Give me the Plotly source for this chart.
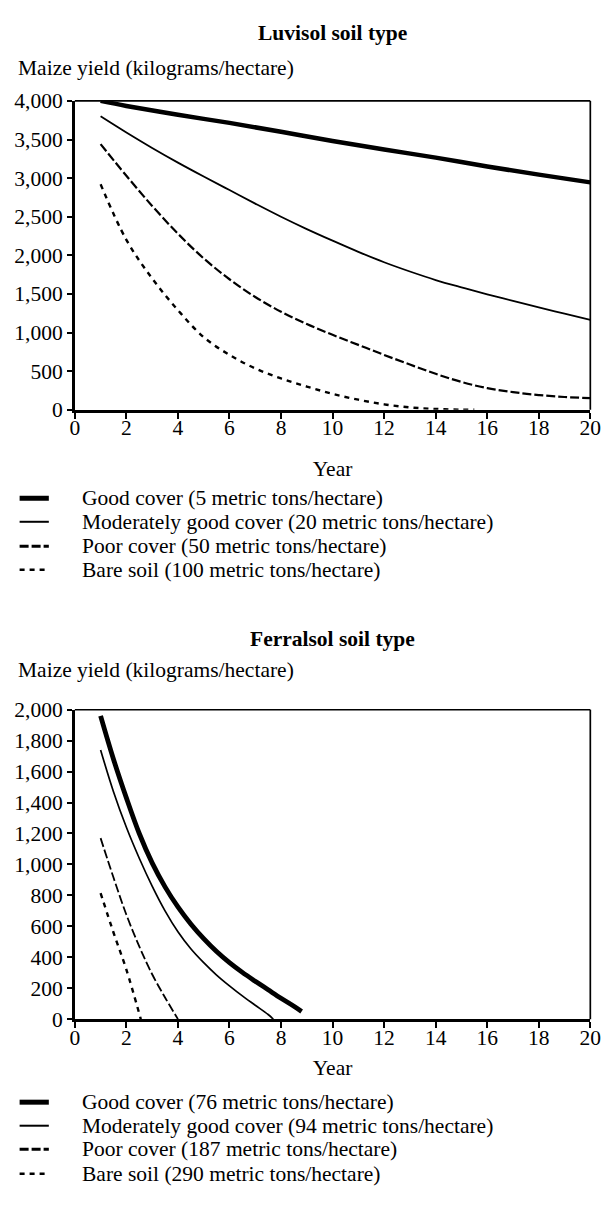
import plotly.graph_objects as go

# ---------------- data ----------------
luv_title = "Luvisol soil type"
fer_title = "Ferralsol soil type"
y_label = "Maize yield (kilograms/hectare)"
x_label = "Year"

luv_names = ["Good cover (5 metric tons/hectare)",
             "Moderately good cover (20 metric tons/hectare)",
             "Poor cover (50 metric tons/hectare)",
             "Bare soil (100 metric tons/hectare)"]
fer_names = ["Good cover (76 metric tons/hectare)",
             "Moderately good cover (94 metric tons/hectare)",
             "Poor cover (187 metric tons/hectare)",
             "Bare soil (290 metric tons/hectare)"]

luv_good_x = [1, 2, 4, 6, 8, 10, 12, 14, 16, 18, 20]
luv_good_y = [4000, 3935, 3820, 3715, 3600, 3480, 3370, 3265, 3150, 3045, 2945]
luv_mod_x = list(range(1, 21))
luv_mod_y = [3800, 3590, 3390, 3200, 3020, 2845, 2670, 2500, 2340, 2190,
             2045, 1910, 1790, 1680, 1585, 1495, 1410, 1325, 1245, 1165]
luv_poor_x = list(range(1, 21))
luv_poor_y = [3440, 3030, 2640, 2280, 1960, 1690, 1460, 1270, 1110, 970,
              840, 710, 585, 465, 360, 280, 228, 190, 165, 150]
luv_bare_x = [1, 2, 3, 4, 5, 6, 7, 8, 9, 10, 11, 12, 13, 14, 15, 15.5]
luv_bare_y = [2920, 2200, 1700, 1290, 940, 710, 535, 405, 300, 205, 130, 70, 30, 10, 0, 0]

fer_good_x = [1, 1.5, 2, 2.5, 3, 3.5, 4, 4.5, 5, 5.5, 6, 6.5, 7, 7.5, 8, 8.5, 8.8]
fer_good_y = [1960, 1680, 1430, 1200, 1010, 855, 725, 615, 520, 437, 365, 302, 245, 190, 135, 83, 50]
fer_mod_x = [1, 1.5, 2, 2.5, 3, 3.5, 4, 4.5, 5, 5.5, 6, 6.5, 7, 7.5, 7.7]
fer_mod_y = [1740, 1470, 1240, 1040, 860, 700, 565, 455, 365, 285, 215, 150, 90, 30, 0]
fer_poor_x = [1, 1.5, 2, 2.5, 3, 3.5, 4]
fer_poor_y = [1170, 915, 675, 470, 290, 140, 0]
fer_bare_x = [1, 1.5, 2, 2.56]
fer_bare_y = [815, 560, 320, 0]

# ---------------- styling ----------------
W, H = 613, 1224
FONT = "Liberation Serif"
FS = 21.5

def px(X):
    return X / W

def py(Y):
    return 1 - Y / H

styles_top = [dict(width=4.5, dash="solid"),
              dict(width=1.8, dash="solid"),
              dict(width=2.2, dash="9px,3px"),
              dict(width=2.4, dash="5px,5px")]
styles_bot = [dict(width=4.8, dash="solid"),
              dict(width=1.7, dash="solid"),
              dict(width=1.8, dash="9px,3px"),
              dict(width=2.4, dash="5px,5px")]

fig = go.Figure()

top_series = [(luv_good_x, luv_good_y), (luv_mod_x, luv_mod_y),
              (luv_poor_x, luv_poor_y), (luv_bare_x, luv_bare_y)]
bot_series = [(fer_good_x, fer_good_y), (fer_mod_x, fer_mod_y),
              (fer_poor_x, fer_poor_y), (fer_bare_x, fer_bare_y)]

for (xs, ys), name, st in zip(top_series, luv_names, styles_top):
    fig.add_trace(go.Scatter(x=xs, y=ys, name=name, mode="lines",
                             line=dict(color="black", shape="spline", smoothing=1.0, **st),
                             xaxis="x", yaxis="y", showlegend=False))
for (xs, ys), name, st in zip(bot_series, fer_names, styles_bot):
    fig.add_trace(go.Scatter(x=xs, y=ys, name=name, mode="lines",
                             line=dict(color="black", shape="spline", smoothing=1.0, **st),
                             xaxis="x2", yaxis="y2", showlegend=False))

xdom = [px(71.7), px(601)]
top_dom = [py(406.7), py(91.7)]
bot_dom = [py(1028.3), py(712.7)]

axis_common = dict(showgrid=False, zeroline=False, showline=True, linecolor="black",
                   linewidth=2.6, ticks="outside", tickcolor="black", tickwidth=2,
                   tickfont=dict(family=FONT, size=FS, color="black"), mirror=False)

fig.update_layout(
    width=W, height=H, margin=dict(l=0, r=0, t=0, b=0),
    paper_bgcolor="white", plot_bgcolor="white",
    font=dict(family=FONT, size=FS, color="black"),
    xaxis=dict(domain=xdom, range=[0, 20], dtick=2, tick0=0, ticklen=6, anchor="y",
               ticklabelstandoff=-9, ticklabeloverflow="allow",
               title=dict(text=x_label, font=dict(family=FONT, size=FS), standoff=22),
               **axis_common),
    yaxis=dict(domain=top_dom, range=[0, 4000], dtick=500, tickformat=",", ticklen=5,
               anchor="x", ticklabelstandoff=0, **axis_common),
    xaxis2=dict(domain=xdom, range=[0, 20], dtick=2, tick0=0, ticklen=6, anchor="y2",
                ticklabelstandoff=-9, ticklabeloverflow="allow",
                title=dict(text=x_label, font=dict(family=FONT, size=FS), standoff=12),
                **axis_common),
    yaxis2=dict(domain=bot_dom, range=[0, 2000], dtick=200, tickformat=",", ticklen=5,
                anchor="x2", ticklabelstandoff=0, **axis_common),
)

shapes = []
for xr, yr in [("x domain", "y domain"), ("x2 domain", "y2 domain")]:
    shapes.append(dict(type="line", xref=xr, yref=yr, x0=0, x1=1, y0=1, y1=1,
                       line=dict(color="black", width=1.7)))
    shapes.append(dict(type="line", xref=xr, yref=yr, x0=1, x1=1, y0=0, y1=1,
                       line=dict(color="black", width=1.7)))

annotations = [
    dict(text="<b>" + luv_title + "</b>", x=px(336), y=py(22), xref="paper", yref="paper",
         xanchor="center", yanchor="middle", showarrow=False, font=dict(family=FONT, size=FS)),
    dict(text=y_label, x=px(11), y=py(58), xref="paper", yref="paper",
         xanchor="left", yanchor="middle", showarrow=False, font=dict(family=FONT, size=FS)),
    dict(text="<b>" + fer_title + "</b>", x=px(336), y=py(641), xref="paper", yref="paper",
         xanchor="center", yanchor="middle", showarrow=False, font=dict(family=FONT, size=FS)),
    dict(text=y_label, x=px(11), y=py(672), xref="paper", yref="paper",
         xanchor="left", yanchor="middle", showarrow=False, font=dict(family=FONT, size=FS)),
]

leg_top_rows = [497, 521, 546, 570]
leg_bot_rows = [1113, 1137, 1161, 1186]
leg_w = [5, 2, 3, 2.6]
for rows, names, styles in [(leg_top_rows, luv_names, styles_top), (leg_bot_rows, fer_names, styles_bot)]:
    for Y, name, st, lw in zip(rows, names, styles, leg_w):
        shapes.append(dict(type="line", xref="paper", yref="paper",
                           x0=px(15), x1=px(45), y0=py(Y), y1=py(Y),
                           line=dict(color="black", width=lw, dash=st["dash"])))
        annotations.append(dict(text=name, x=px(77), y=py(Y), xref="paper", yref="paper",
                                xanchor="left", yanchor="middle", showarrow=False,
                                font=dict(family=FONT, size=FS)))

fig.update_layout(shapes=shapes, annotations=annotations)
fig.write_html("out.html", config={"displayModeBar": False},
               post_script="document.body.style.margin='0';document.body.style.overflow='hidden';")
